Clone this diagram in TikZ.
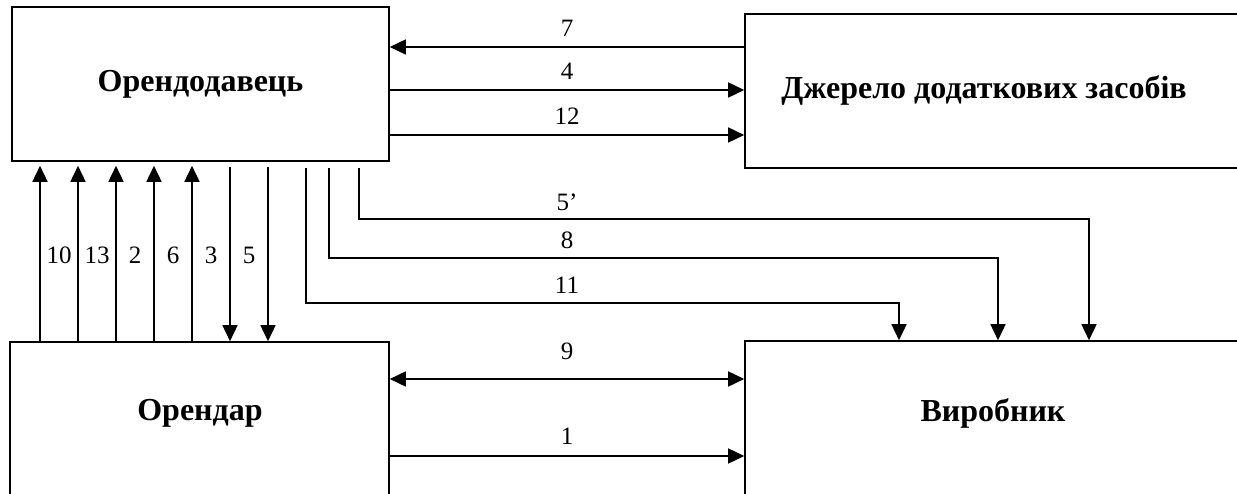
\documentclass[tikz,border=0pt]{standalone}
\usepackage{fontspec}
\setmainfont{Liberation Serif}
\usetikzlibrary{arrows.meta}

\begin{document}
\begin{tikzpicture}[x=1pt, y=-1pt, >={Triangle[length=16pt,width=15pt]}, line width=1.6pt]
    \tikzstyle{box}=[draw, shape=rectangle, inner sep=0pt]
    \tikzstyle{title}=[font=\fontsize{32}{36}\selectfont\bfseries]
    \tikzstyle{num}=[font=\fontsize{25}{29}\selectfont, inner sep=1pt]

    \useasboundingbox (0,0) rectangle (1237,494);
    \clip (0,0) rectangle (1237,494);

    % draw boxes
    \node [box, title, minimum width=377pt, minimum height=154pt] (lessor) at (200.5,84) {Орендодавець};
    \node [box, minimum width=555pt, minimum height=154pt] (source) at (1022.5,91) {};
    \node [box, minimum width=379pt, minimum height=178pt] (lessee) at (199.5,431) {};
    \node [box, minimum width=555pt, minimum height=178pt] (maker) at (1022.5,430) {};

    \node [title] (source-text) at (984,90) {Джерело додаткових засобів};
    \node [title] (lessee-text) at (200,413) {Орендар};
    \node [title] (maker-text) at (993,413) {Виробник};

    % draw top arrows
    \coordinate (row-7) at (0,47);
    \coordinate (row-4) at (0,90);
    \coordinate (row-12) at (0,135);
    \draw [<-] (lessor.east |- row-7) -- node [num, above=9pt] (lab-7) {7} (source.west |- row-7);
    \draw [->] (lessor.east |- row-4) -- node [num, above=9pt] (lab-4) {4} (source.west |- row-4);
    \draw [->] (lessor.east |- row-12) -- node [num, above=9pt] (lab-12) {12} (source.west |- row-12);

    % draw bottom arrows
    \coordinate (row-9) at (0,379);
    \coordinate (row-1) at (0,456);
    \draw [<->] (lessee.east |- row-9) -- node [num, above=17pt] (lab-9) {9} (maker.west |- row-9);
    \draw [->] (lessee.east |- row-1) -- node [num, above=10pt] (lab-1) {1} (maker.west |- row-1);

    % draw vertical lines
    \foreach \x [count=\i] in {40,78,116,154,192} {
    \coordinate (up-\i) at (\x,0);
    \draw [->, shorten >=4pt] (lessee.north -| up-\i) -- (lessor.south -| up-\i);};

    \foreach \x [count=\i] in {230,268} {
    \coordinate (down-\i) at (\x,0);
    \draw [->, shorten <=5pt] (lessor.south -| down-\i) -- (lessee.north -| down-\i);};

    \foreach \l [count=\i] in {10,13,2,6,3,5}
    \node [num] (vlab-\i) at (21+\i*38,255) {\l};

    % draw lines to maker
    \foreach \x/\y/\e [count=\i] in {359/219/1089, 329/258/998, 306/303/899} {
    \coordinate (start-\i) at (\x,0);
    \coordinate (bend-\i) at (\e,\y);
    \draw [->, shorten <=6pt] (lessor.south -| start-\i) |- (bend-\i) -- (maker.north -| bend-\i);};

    \foreach \l/\y [count=\i] in {5’/202, 8/240, 11/285}
    \node [num] (blab-\i) at (567,\y) {\l};

  \end{tikzpicture}
\end{document}
